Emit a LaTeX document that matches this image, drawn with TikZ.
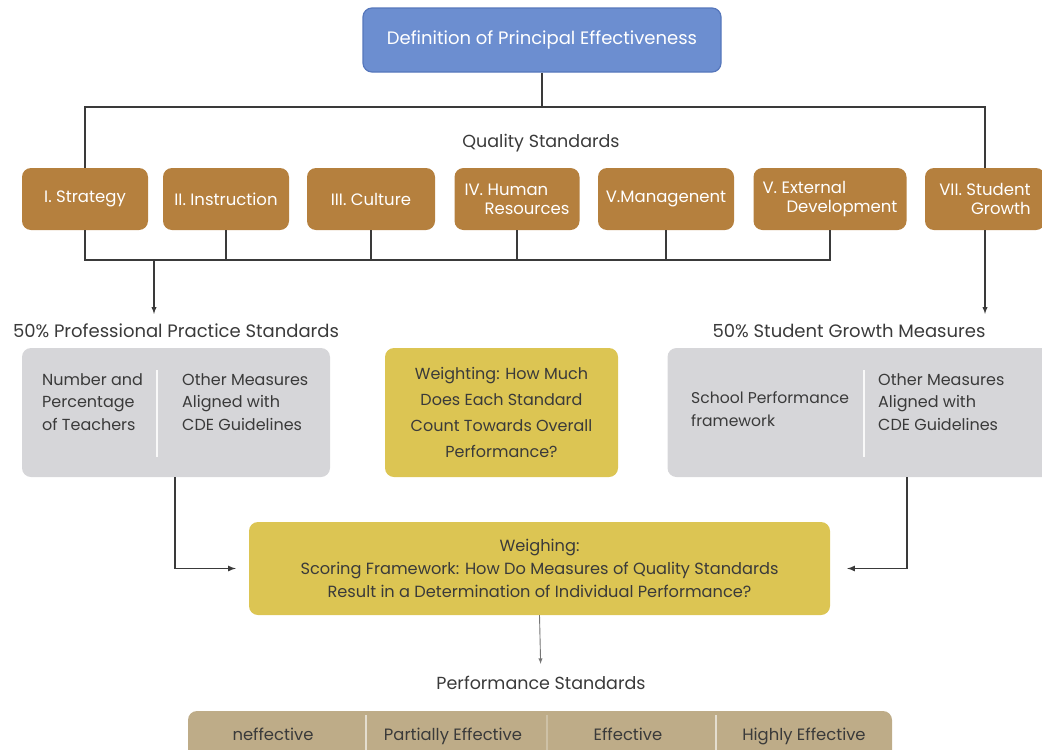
\documentclass[tikz,border=0pt]{standalone}
\usepackage{fontspec}
\setmainfont{Poppins}
\definecolor{defblue}{HTML}{6C8ED0}
\definecolor{defline}{HTML}{5677BC}
\definecolor{stdorange}{HTML}{B5803E}
\definecolor{msrgray}{HTML}{D6D6D9}
\definecolor{wtyellow}{HTML}{DCC553}
\definecolor{perftan}{HTML}{BEAC88}
\definecolor{ink}{HTML}{3A3A3A}
\begin{document}
\begin{tikzpicture}[x=1pt, y=-1pt, >=latex,
    box/.style={rounded corners=9pt, inner sep=2pt, text=ink, font=\fontsize{16.5}{19}\selectfont},
    defbox/.style={box, fill=defblue, draw=defline, line width=1.2pt, text=white, minimum width=358, minimum height=64},
    stdbox/.style={box, fill=stdorange, text=white, minimum height=62},
    msrbox/.style={box, fill=msrgray, minimum height=129},
    wtbox/.style={box, fill=wtyellow, align=center},
    msrtxt/.style={anchor=west, align=left, text=ink, inner sep=0pt, font=\fontsize{16}{22.5}\selectfont},
    lbl/.style={text=ink, inner sep=1pt, text height=1.5ex, text depth=.3ex, font=\fontsize{17.5}{20}\selectfont},
    bus/.style={draw=ink, line width=1.8pt},
    arr/.style={draw=ink, line width=1.3pt, ->},
    divider/.style={draw=white!85!msrgray, line width=1.4pt}]
  \useasboundingbox (0,0) rectangle (1042,750);
  \clip (0,0) rectangle (1042,750);
  \node[defbox] (def) at (542,40) {\fontsize{18}{20}\selectfont Definition of Principal Effectiveness};
  \node[lbl] (qs) at (541,144) {Quality Standards};
  \node[stdbox, minimum width=126] (strat) at (85,199) {I. Strategy};
  \node[stdbox, minimum width=126] (instr) at (226,199) {II. Instruction};
  \node[stdbox, minimum width=128] (cult) at (371,199) {III. Culture};
  \node[stdbox, minimum width=125, align=left] (hr) at (517,199) {IV. Human\\\hspace*{20pt}Resources};
  \node[stdbox, minimum width=136] (mgmt) at (666,199) {V.Managenent};
  \node[stdbox, minimum width=153, align=left] (ext) at (830,199) {V. External\\\hspace*{24pt}Development};
  \node[stdbox, minimum width=120, align=right] (grow) at (985,199) {VII. Student\\Growth};
  \draw[bus] (def.south) -- ++(0,34) coordinate (tb);
  \draw[bus] (strat.north) |- (tb) -| (grow.north);
  \draw[bus] (strat.south) -- ++(0,30) coordinate (bb) -| (ext.south);
  \foreach \s in {instr,cult,hr,mgmt}
    \draw[bus] (\s.south) -- (\s.south |- bb);
  \node[lbl, font=\fontsize{18}{20}\selectfont] (pps) at (176,334) {50\% Professional Practice Standards};
  \node[lbl, font=\fontsize{18}{20}\selectfont] (sgm) at (849,334) {50\% Student Growth Measures};
  \coordinate (ppin) at (154,260);
  \draw[arr, shorten >=14pt] (ppin) -- (ppin |- pps.north);
  \draw[arr, shorten >=14pt] (grow.south) -- (grow.south |- sgm.north);
  \node[msrbox, minimum width=308] (pp) at (176,412.5) {};
  \node[msrtxt] (ppa) at (42,402) {Number and\\Percentage\\of Teachers};
  \node[msrtxt] (ppb) at (182,402) {Other Measures\\Aligned with\\CDE Guidelines};
  \draw[divider] (157,370) -- (157,457);
  \node[wtbox, minimum width=233, minimum height=129, font=\fontsize{16}{26}\selectfont] (wt) at (501.5,412.5) {Weighting: How Much\\Does Each Standard\\Count Towards Overall\\Performance?};
  \node[msrbox, minimum width=385] (sg) at (860,412.5) {};
  \node[msrtxt, font=\fontsize{15.6}{22.5}\selectfont] (sga) at (691,409) {School Performance\\framework};
  \node[msrtxt] (sgb) at (878,402) {Other Measures\\Aligned with\\CDE Guidelines};
  \draw[divider] (864,370) -- (864,457);
  \node[wtbox, minimum width=581, minimum height=93, font=\fontsize{16.2}{23}\selectfont] (sf) at (539.5,568.5) {Weighing:\\Scoring Framework: How Do Measures of Quality Standards\\Result in a Determination of Individual Performance?};
  \draw[arr, line width=1.6pt, shorten >=13pt] ([xshift=-1]pp.south) |- (sf.west);
  \draw[arr, line width=1.6pt, shorten >=17pt] ([xshift=47]sg.south) |- (sf.east);
  \node[lbl] (ps) at (541,686) {Performance Standards};
  \draw[arr, draw=ink!70, line width=0.9pt, shorten >=16pt] (sf.south) -- (ps.north);
  \node[box, fill=perftan, minimum width=704, minimum height=58] (pb) at (540,740) {};
  \draw[divider, draw=white!60!perftan] (366,715) -- (366,750);
  \draw[divider, draw=white!25!perftan] (547,715) -- (547,750);
  \draw[divider, draw=white!60!perftan] (716,715) -- (716,750);
  \node[lbl, font=\fontsize{16.4}{19}\selectfont] (inef) at (273,737) {neffective};
  \node[lbl, font=\fontsize{16.4}{19}\selectfont] (part) at (453,737) {Partially Effective};
  \node[lbl, font=\fontsize{16.4}{19}\selectfont] (eff) at (628,737) {Effective};
  \node[lbl, font=\fontsize{16.4}{19}\selectfont] (high) at (804,737) {Highly Effective};
\end{tikzpicture}
\end{document}
